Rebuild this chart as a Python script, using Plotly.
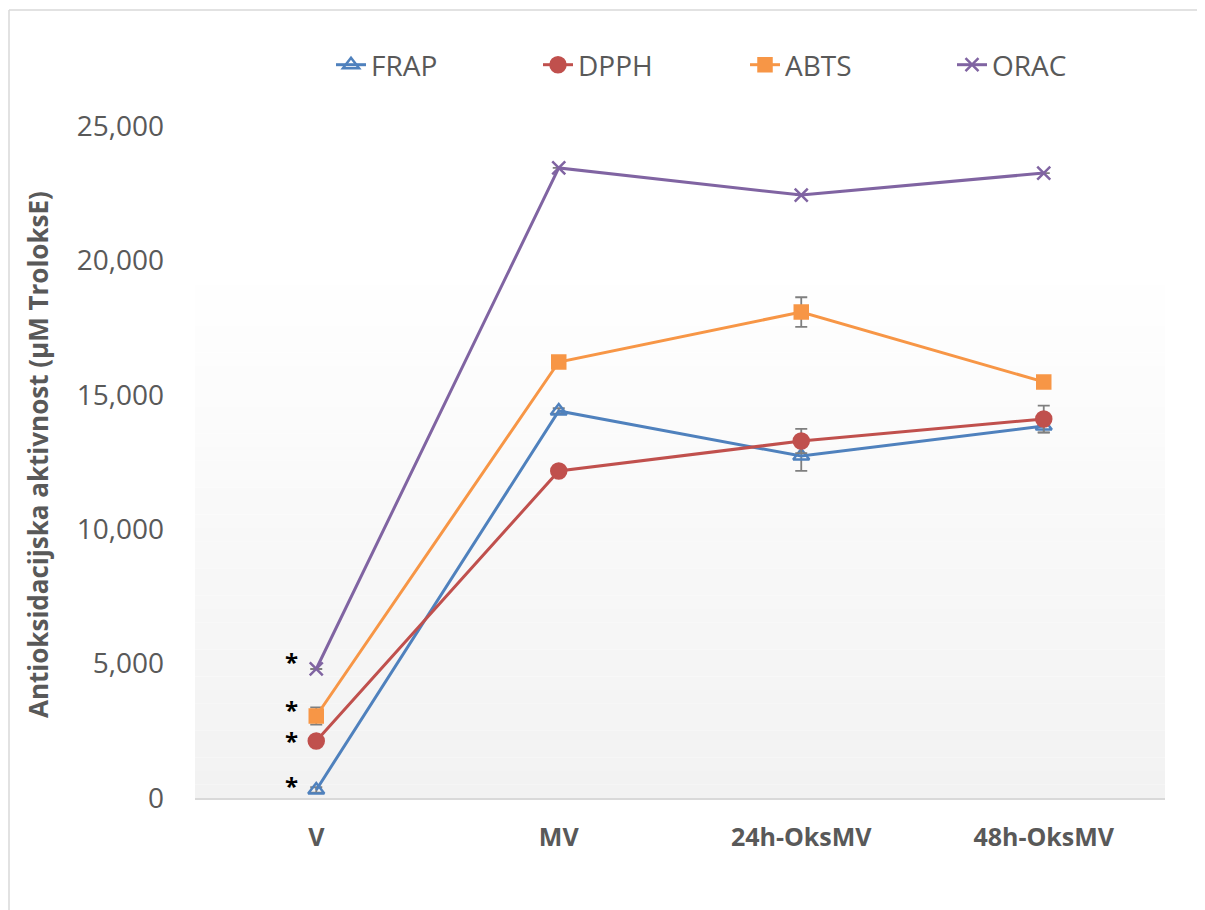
import plotly.graph_objects as go

categories = ["V", "MV", "24h-OksMV", "48h-OksMV"]
frap = [300, 14400, 12720, 13840]
dpph = [2120, 12165, 13280, 14100]
abts = [3050, 16220, 18080, 15480]
orac = [4800, 23440, 22430, 23250]
frap_err = [100, 100, 550, 250]
dpph_err = [80, 100, 450, 500]
abts_err = [320, 120, 550, 100]
orac_err = [0, 0, 0, 0]
y_ticks = [0, 5000, 10000, 15000, 20000, 25000]
star_y = [5134, 3348, 2158, 484]

GRAY = "#595959"
FONT = "Open Sans"

series = [
    ("FRAP", frap, frap_err, "#4f81bd", "triangle-up-open", 14),
    ("DPPH", dpph, dpph_err, "#c0504d", "circle", 15),
    ("ABTS", abts, abts_err, "#f79646", "square", 13),
    ("ORAC", orac, orac_err, "#8064a2", "x-thin-open", 13),
]

fig = go.Figure()
for name, vals, err, col, sym, size in series:
    fig.add_trace(go.Scatter(
        x=categories, y=vals, name=name, mode="lines+markers",
        line=dict(color=col, width=3),
        marker=dict(symbol=sym, size=size, color=col, line=dict(color=col, width=2.5)),
        error_y=dict(type="data", array=err, visible=True, color="#7f7f7f",
                     thickness=1.8, width=6),
    ))

W, H = 1197, 902
# plot area in figure pixels: x 187..1157, y 118..790
PL, PW, PT, PH = 187, 970, 118, 672

def px(x):
    return (x - PL) / PW

def py(y):
    return (PT + PH - y) / PH

# gradient background bands
shapes = []
n = 40
y0p, y1p = 0.0, py(250)
for i in range(n):
    t = i / (n - 1)
    c = round(242 + (255 - 242) * t)
    shapes.append(dict(type="rect", xref="paper", yref="paper", layer="below",
                       x0=0, x1=1, y0=y0p + (y1p - y0p) * i / n,
                       y1=y0p + (y1p - y0p) * (i + 1) / n,
                       fillcolor=f"rgb({c},{c},{c})", line=dict(width=0)))
# outer chart border (only top/left visible)
shapes.append(dict(type="line", xref="paper", yref="paper", layer="below",
                   x0=px(1), x1=px(1), y0=py(H), y1=py(2),
                   line=dict(color="#d9d9d9", width=1.5)))
shapes.append(dict(type="line", xref="paper", yref="paper", layer="below",
                   x0=px(1), x1=px(W), y0=py(2), y1=py(2),
                   line=dict(color="#d9d9d9", width=1.5)))

annotations = [dict(text="Antioksidacijska aktivnost (µM TroloksE)", textangle=-90,
                    xref="paper", yref="paper", x=px(30), y=py(447),
                    xanchor="center", yanchor="middle",
                    showarrow=False, font=dict(family=FONT, size=26, color=GRAY, weight="bold"))]
for sy in star_y:
    annotations.append(dict(text="*", x="V", y=sy, xref="x", yref="y", xshift=-25, yshift=-1,
                            showarrow=False, font=dict(family=FONT, size=24, color="black", weight="bold")))

fig.update_layout(
    width=W, height=H,
    margin=dict(l=PL, r=W - PL - PW, t=PT, b=H - PT - PH),
    paper_bgcolor="white", plot_bgcolor="white",
    shapes=shapes, annotations=annotations,
    legend=dict(orientation="h", x=px(323), y=py(57),
                xanchor="left", yanchor="middle", entrywidth=162, entrywidthmode="pixels",
                font=dict(family=FONT, size=28, color=GRAY), bgcolor="rgba(0,0,0,0)"),
    xaxis=dict(range=[-0.5, 3.5], showgrid=False, showline=True, linecolor="#d9d9d9",
               linewidth=1.5, ticks="", ticklabelstandoff=16,
               tickfont=dict(family=FONT, size=25, color=GRAY, weight="bold")),
    yaxis=dict(range=[0, 25000], showgrid=False, zeroline=False, showline=False,
               tickvals=y_ticks, tickformat=",", ticks="", ticklabelstandoff=30,
               tickfont=dict(family=FONT, size=28, color=GRAY)),
    showlegend=True,
)

fig.write_html("out.html")
